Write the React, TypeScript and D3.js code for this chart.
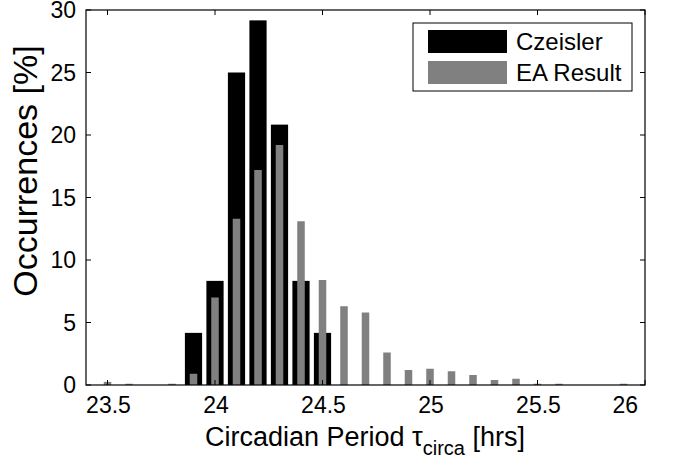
import React from "react";
import * as d3 from "d3";

// Czeisler histogram (percent of subjects per 0.1 h bin)
const czeislerBins = [23.9, 24.0, 24.1, 24.2, 24.3, 24.4, 24.5];
const czeislerPct = [4.17, 8.33, 25.0, 29.17, 20.83, 8.33, 4.17];

// EA result histogram
const eaBins = [
  23.5, 23.6, 23.7, 23.8, 23.9, 24.0, 24.1, 24.2, 24.3, 24.4, 24.5, 24.6, 24.7,
  24.8, 24.9, 25.0, 25.1, 25.2, 25.3, 25.4, 25.5, 25.6, 25.7, 25.8, 25.9,
];
const eaPct = [
  0.25, 0.1, 0, 0.1, 0.9, 7.0, 13.3, 17.2, 19.2, 13.1, 8.4, 6.3, 5.8, 2.6, 1.2,
  1.3, 1.1, 0.8, 0.4, 0.5, 0.1, 0.1, 0, 0, 0.1,
];

const xTicks = [23.5, 24, 24.5, 25, 25.5, 26];
const yTicks = [0, 5, 10, 15, 20, 25, 30];
const legendLabels = ["Czeisler", "EA Result"];

const W = 678;
const H = 465;
const m = { left: 86, right: 645, top: 10, bottom: 385 };
const font = "'Liberation Sans', Arial, Helvetica, sans-serif";

export default function App() {
  const x = d3.scaleLinear().domain([23.4, 26]).range([m.left, m.right]);
  const y = d3.scaleLinear().domain([0, 30]).range([m.bottom, m.top]);
  const bw = x(23.48) - x(23.4);
  const gw = x(23.435) - x(23.4);
  const tick = 5;

  return (
    <svg
      width={W}
      height={H}
      style={{ position: "absolute", left: 0, top: 0, background: "#fff" }}
      fontFamily={font}
    >
      <g>
        {czeislerBins.map((b, i) => (
          <rect
            key={"c" + i}
            x={x(b) - bw / 2}
            y={y(czeislerPct[i])}
            width={bw}
            height={y(0) - y(czeislerPct[i])}
            fill="#000"
          />
        ))}
      </g>
      <g>
        {eaBins.map((b, i) =>
          eaPct[i] > 0 ? (
            <rect
              key={"e" + i}
              x={x(b) - gw / 2}
              y={y(eaPct[i])}
              width={gw}
              height={y(0) - y(eaPct[i])}
              fill="#808080"
            />
          ) : null
        )}
      </g>

      {/* axes box */}
      <rect
        x={m.left}
        y={m.top}
        width={m.right - m.left}
        height={m.bottom - m.top}
        fill="none"
        stroke="#000"
        strokeWidth={1.2}
      />
      {xTicks.map((t) => (
        <g key={"xt" + t}>
          <line x1={x(t)} x2={x(t)} y1={m.bottom} y2={m.bottom - tick} stroke="#000" />
          <line x1={x(t)} x2={x(t)} y1={m.top} y2={m.top + tick} stroke="#000" />
          <text
            x={t === 26 ? x(t) - 7 : x(t) + 1}
            y={413}
            textAnchor={t === 26 ? "end" : "middle"}
            fontSize={23}
          >
            {t}
          </text>
        </g>
      ))}
      {yTicks.map((t) => (
        <g key={"yt" + t}>
          <line x1={m.left} x2={m.left + tick} y1={y(t)} y2={y(t)} stroke="#000" />
          <line x1={m.right} x2={m.right - tick} y1={y(t)} y2={y(t)} stroke="#000" />
          <text x={76} y={y(t) + 8} textAnchor="end" fontSize={23}>
            {t}
          </text>
        </g>
      ))}

      {/* axis labels */}
      <text
        transform="translate(37,171) rotate(-90)"
        textAnchor="middle"
        fontSize={34}
      >
        Occurrences [%]
      </text>
      <text x={365} y={446} textAnchor="middle" fontSize={27}>
        Circadian Period τ
        <tspan fontSize={20} dy={9}>circa</tspan>
        <tspan dy={-9}> [hrs]</tspan>
      </text>

      {/* legend */}
      <rect x={413} y={23} width={219} height={68} fill="#fff" stroke="#000" strokeWidth={1} />
      {legendLabels.map((l, i) => (
        <g key={l}>
          <rect
            x={428}
            y={30 + i * 31}
            width={79}
            height={23}
            fill={i === 0 ? "#000" : "#808080"}
          />
          <text x={516} y={50 + i * 31} fontSize={24}>
            {l}
          </text>
        </g>
      ))}
    </svg>
  );
}
